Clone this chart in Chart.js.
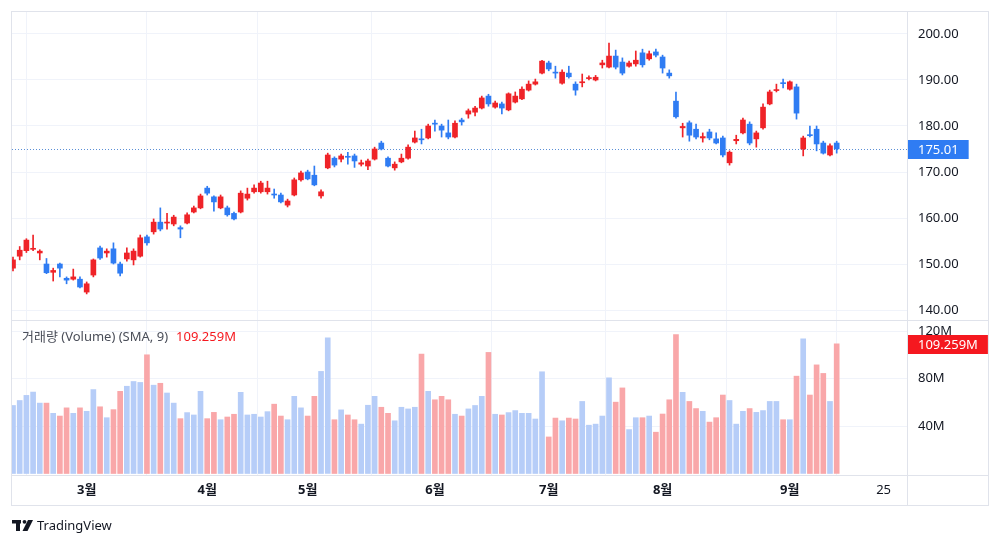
<!DOCTYPE html>
<html lang="ko">
<head>
<meta charset="utf-8">
<script src="https://cdn.jsdelivr.net/npm/chart.js@4.4.1/dist/chart.umd.min.js"></script>
<style>
  html, body { margin: 0; padding: 0; background: #fff; }
  canvas { display: block; }
</style>
</head>
<body>
<canvas id="chart" width="1000" height="545"></canvas>
<script>
// daily candles
const opens = [
  149.1, 151.7, 152.9, 153.2, 152.4, 150, 148.2, 150, 146.9, 146.7,
  146.7, 143.9, 147.6, 153.5, 152.4, 153.3, 150, 151.1, 150.9, 151.7,
  155.9, 157, 159.1, 158.9, 158.7, 157.9, 158.9, 161.3, 162.2, 166.5,
  164.6, 162.2, 162.2, 161, 161.3, 164.3, 165.7, 165.7, 165.7, 165.2,
  165, 162.8, 165, 168.3, 170, 169.3, 164.8, 170.9, 173, 172.8,
  173.4, 173.5, 171.7, 171.3, 172.8, 176.3, 173, 170.9, 172.2, 173,
  176.5, 177.2, 177.4, 180.6, 180, 178.5, 177.6, 181.3, 182.6, 183,
  183.9, 186.5, 184.1, 184.8, 183.5, 185.2, 185.9, 187.8, 189.1, 191.5,
  193.7, 191.7, 189.3, 191.5, 189.1, 189.4, 190.3, 190, 193.3, 192.8,
  195.2, 193.9, 193, 193.5, 195.9, 194.6, 196.1, 195, 191.5, 185.4,
  179.6, 180.7, 179.3, 177.4, 178.7, 177.2, 177.4, 172, 176.8, 178.5,
  180.4, 177.2, 179.6, 184.8, 187.7, 189.4, 188, 188.5, 175, 178.1,
  179.3, 176.3, 173.7, 176.3
];
const closes = [
  150.9, 153, 155.2, 153.4, 152.8, 148.1, 148.6, 149.1, 146.5, 147.2,
  145, 145.7, 150.9, 151.3, 152.8, 150.2, 148, 152.4, 152.8, 155.7,
  154.6, 159.1, 157.6, 159.1, 160.2, 157.6, 160.7, 162.2, 164.8, 165.4,
  163.5, 164.6, 160.7, 159.8, 165.4, 165.2, 166.5, 167.6, 166.5, 165,
  163.5, 163.7, 168.3, 169.8, 168.5, 167.2, 165.7, 173.7, 171.5, 173.5,
  173.2, 172.4, 172, 172.4, 175, 175, 171.3, 171.7, 173, 175.4,
  177.4, 177, 180, 180.4, 179.1, 177.6, 180.6, 180.9, 183.3, 183.9,
  186.1, 184.8, 185, 183.9, 187, 186.5, 188, 189.1, 189.6, 194.1,
  192.4, 191.5, 191.7, 190.7, 187.8, 189.6, 190.5, 190.6, 193.7, 195.2,
  192.8, 191.5, 193.7, 194.3, 193.3, 195.7, 195.4, 192.6, 190.9, 182,
  179.9, 178, 177.6, 177.7, 177.4, 176.3, 173.7, 174.3, 177.1, 181.3,
  176.3, 178.5, 184.1, 187.4, 187.9, 189.2, 189.6, 182.8, 177.4, 177.9,
  176.1, 174.1, 175.7, 175.01
];
const highs = [
  151.5, 153.8, 155.5, 156.3, 153.1, 151.2, 149.1, 150.2, 147.2, 148.9,
  147.2, 146.1, 151.1, 153.9, 153.3, 154.6, 150.4, 153.5, 153.3, 156.3,
  156.3, 159.8, 162.2, 161, 160.6, 158.3, 161.1, 162.6, 165.2, 166.9,
  164.8, 165, 162.6, 161.3, 165.9, 166.5, 167.2, 168, 168, 166.3,
  165.4, 164.1, 168.7, 170.2, 170.4, 171.3, 166.1, 174.1, 173.3, 173.9,
  174.3, 173.9, 172.6, 172.8, 175.4, 176.7, 173.3, 172.2, 173.9, 175.9,
  178.9, 179.3, 180.4, 181.3, 180.4, 181.3, 181.1, 181.7, 183.7, 184.3,
  186.5, 186.9, 185.4, 185.2, 187.2, 187.4, 188.5, 189.8, 190.2, 194.3,
  194.1, 193, 192.2, 193, 189.6, 191.3, 190.9, 191, 194.3, 198,
  196.5, 194.8, 194.1, 196.3, 196.7, 196.3, 196.7, 195.4, 192.2, 187.4,
  180.6, 181.1, 180.4, 178.5, 179.3, 178.5, 177.8, 174.6, 178, 181.7,
  180.9, 178.9, 184.8, 187.8, 189.1, 190.2, 189.8, 189.1, 177.8, 180,
  180, 176.7, 176.1, 176.7
];
const lows = [
  148.5, 150.9, 152.5, 152.9, 150.9, 147.9, 146.3, 147.2, 145.7, 146.5,
  144.8, 143.5, 147.2, 151, 151.5, 150, 147.4, 150.6, 149.8, 151.5,
  154.1, 156.5, 157.2, 157.6, 158.3, 155.7, 158.7, 161.1, 162, 165,
  161.5, 162, 160.4, 159.6, 161.1, 163.9, 165.4, 165.4, 165.2, 164.3,
  163.3, 162.4, 164.8, 168, 168.3, 167, 164.3, 170.7, 171.1, 172.2,
  171.7, 171, 171.3, 170.5, 172.6, 174.8, 171.1, 170.4, 172, 172.8,
  176.3, 176.1, 177.2, 178.9, 177.6, 177.2, 177.4, 180.2, 181.7, 182.2,
  183.7, 184.3, 183.9, 182.6, 183.3, 185, 185.7, 187.6, 188.9, 191.3,
  192, 190.4, 189.1, 190.4, 186.7, 188.5, 190, 189.8, 192.6, 192.6,
  192.4, 191.1, 192.8, 193, 192.8, 194.3, 195, 191.5, 190.4, 181.7,
  177.6, 176.7, 177.2, 176.5, 177, 176.1, 173.3, 171.5, 176.1, 178.3,
  175.9, 175.4, 179.3, 184.6, 187.4, 188.3, 187.8, 181.5, 173.5, 177.6,
  174.6, 173.9, 173.5, 174.1
];

// volume in millions, and whether each bar is drawn in the "up" colour
const volumes = [
  57.3, 61.5, 65.8, 68.6, 59.3, 59.3, 50.7, 48.4, 55.3, 50.7,
  55.3, 52.4, 70.7, 56.2, 47, 53.8, 69.2, 73.5, 77.5, 76.7,
  100, 74.4, 76, 67.8, 59.3, 46.2, 51.3, 49.3, 69.2, 46.2,
  51.5, 45.3, 47.6, 49.9, 68.4, 49.3, 49.9, 47.6, 52.1, 58.4,
  48.4, 45.3, 65, 55.3, 48.4, 65, 86, 114.3, 45.3, 53.6,
  49.3, 45.3, 41.6, 57.5, 65, 55.8, 50.7, 44.4, 55.8, 54.4,
  55.8, 100.6, 69.2, 62.1, 65, 62.1, 49.9, 48.4, 54.4, 57.3,
  65, 102, 49.9, 49.3, 51.3, 53, 50.7, 50.7, 45.9, 85.7,
  30.8, 46.7, 44.4, 46.7, 45.9, 60.7, 40.7, 41.6, 48.4, 80.6,
  60.1, 72.1, 37, 47, 47, 48.4, 34.8, 50.1, 62.1, 117.1,
  68.4, 60.7, 54.7, 52.4, 43.3, 47, 66.1, 61.5, 41.6, 52.4,
  54.7, 51.5, 53, 60.7, 60.7, 45.3, 45.3, 82, 113.4, 66.1,
  91.5, 84.3, 60.7, 109.259
];
const volumeUp = [
  0, 0, 0, 0, 0, 1, 0, 1, 1, 0,
  1, 0, 0, 1, 0, 1, 1, 0, 0, 0,
  1, 0, 1, 0, 0, 1, 0, 0, 0, 1,
  1, 0, 1, 1, 0, 0, 0, 0, 0, 1,
  1, 0, 0, 0, 1, 1, 0, 0, 1, 0,
  1, 1, 0, 0, 0, 1, 1, 0, 0, 0,
  0, 1, 0, 1, 1, 1, 0, 1, 0, 0,
  0, 1, 0, 1, 0, 0, 0, 0, 0, 0,
  1, 1, 0, 1, 1, 0, 0, 0, 0, 0,
  1, 1, 0, 0, 1, 0, 1, 1, 1, 1,
  0, 1, 1, 0, 1, 1, 1, 0, 0, 0,
  1, 0, 0, 0, 0, 1, 0, 1, 0, 1,
  1, 1, 0, 1
];

const monthTicks = [11, 29, 44, 63, 80, 97, 116, 130];
const monthLabels = ["3월", "4월", "5월", "6월", "7월", "8월", "9월", "25"];
const priceTicks = [140, 150, 160, 170, 180, 190, 200];
const volumeTicks = [40, 80, 120];
const lastPrice = 175.01;
const lastVolume = 109.259;

const UP = "#ef2328";
const DOWN = "#2f7cf3";
const UP_VOL = "#f9a7a9";
const DOWN_VOL = "#b6cdf8";
const GRID = "#f0f3fa";
const FRAME = "#e0e3eb";
const FONT = "'Noto Sans', 'Noto Sans CJK KR', sans-serif";

const candleColors = opens.map((o, i) => closes[i] >= o ? UP : DOWN);
const volColors = volumeUp.map(u => u ? UP_VOL : DOWN_VOL);

// keep the right axes from pushing the plot area around
function fixRightAxis(s) {
  s.width = 81;
  s.paddingTop = 0;
  s.paddingBottom = 0;
}

// frame, pane separators, price line, value boxes, legend, logo
const decorations = {
  id: "decorations",
  beforeDraw(chart) {
    const ctx = chart.ctx;
    ctx.save();
    ctx.fillStyle = "#fff";
    ctx.fillRect(0, 0, chart.width, chart.height);
    ctx.restore();
  },
  beforeDatasetsDraw(chart) {
    const ctx = chart.ctx;
    const a = chart.chartArea;
    const py = Math.round(chart.scales.yPrice.getPixelForValue(lastPrice)) + 0.5;
    ctx.save();
    ctx.strokeStyle = "#5b8fd6";
    ctx.lineWidth = 1;
    ctx.setLineDash([1, 2]);
    ctx.beginPath();
    ctx.moveTo(a.left, py);
    ctx.lineTo(a.right, py);
    ctx.stroke();
    ctx.restore();
  },
  afterDraw(chart) {
    const ctx = chart.ctx;
    const a = chart.chartArea;
    const yP = chart.scales.yPrice;
    const yV = chart.scales.yVol;
    ctx.save();
    ctx.strokeStyle = FRAME;
    ctx.lineWidth = 1;
    ctx.strokeRect(11.5, 11.5, 977, 494);
    ctx.beginPath();
    ctx.moveTo(a.right + 0.5, 12);
    ctx.lineTo(a.right + 0.5, 505);
    const sep = Math.round(yP.bottom) + 0.5;
    ctx.moveTo(12, sep);
    ctx.lineTo(988, sep);
    ctx.moveTo(12, Math.round(a.bottom) + 0.5);
    ctx.lineTo(988, Math.round(a.bottom) + 0.5);
    ctx.stroke();

    // value boxes on the right scale
    ctx.font = "13px " + FONT;
    ctx.textBaseline = "middle";
    const box = (text, y, color) => {
      const w = ctx.measureText(text).width + 20;
      ctx.fillStyle = color;
      ctx.fillRect(a.right + 1, Math.round(y) - 9, w, 19);
      ctx.fillStyle = "#fff";
      ctx.fillText(text, a.right + 11, Math.round(y) + 1);
    };
    box(lastPrice.toFixed(2), yP.getPixelForValue(lastPrice), DOWN);
    box(lastVolume.toFixed(3) + "M", yV.getPixelForValue(lastVolume), "#f5181f");

    // volume legend
    ctx.textAlign = "left";
    ctx.fillStyle = "#4a4e59";
    const legend = "거래량 (Volume) (SMA, 9)";
    ctx.fillText(legend, 22, yV.top + 17);
    ctx.fillStyle = "#f5181f";
    ctx.fillText(lastVolume.toFixed(3) + "M", 22 + ctx.measureText(legend).width + 8, yV.top + 17);

    // TradingView mark
    ctx.fillStyle = "#131722";
    ctx.fillRect(12, 520, 9, 3.5);
    ctx.fillRect(16, 520, 4, 11);
    ctx.beginPath();
    ctx.arc(24.5, 521.8, 1.9, 0, Math.PI * 2);
    ctx.fill();
    ctx.beginPath();
    ctx.moveTo(28, 520);
    ctx.lineTo(33, 520);
    ctx.lineTo(27.5, 531);
    ctx.lineTo(22.5, 531);
    ctx.closePath();
    ctx.fill();
    ctx.font = "13px " + FONT;
    ctx.fillText("TradingView", 37, 526);
    ctx.restore();
  }
};

new Chart(document.getElementById("chart"), {
  type: "bar",
  data: {
    datasets: [
      {
        label: "wick",
        data: highs.map((h, i) => ({ x: i, y: [lows[i], h] })),
        backgroundColor: candleColors,
        barThickness: 1,
        grouped: false,
        yAxisID: "yPrice",
        order: 2
      },
      {
        label: "body",
        data: opens.map((o, i) => ({ x: i, y: [o, closes[i]] })),
        backgroundColor: candleColors,
        barThickness: 5,
        minBarLength: 1,
        grouped: false,
        yAxisID: "yPrice",
        order: 1
      },
      {
        label: "volume",
        data: volumes.map((v, i) => ({ x: i, y: v })),
        backgroundColor: volColors,
        barThickness: 5,
        grouped: false,
        yAxisID: "yVol",
        order: 3
      }
    ]
  },
  options: {
    responsive: false,
    animation: false,
    devicePixelRatio: 1,
    layout: { padding: { left: 12, top: 12, right: 12, bottom: 40 } },
    plugins: { legend: { display: false }, tooltip: { enabled: false } },
    scales: {
      x: {
        type: "linear",
        min: -0.15,
        max: 133.5,
        offset: false,
        border: { display: false },
        grid: { color: GRID, drawTicks: false },
        afterBuildTicks: s => { s.ticks = monthTicks.map(v => ({ value: v })); },
        afterFit: s => { s.height = 30; s.paddingLeft = 0; s.paddingRight = 0; },
        ticks: {
          autoSkip: false,
          maxRotation: 0,
          padding: 7,
          color: "#131722",
          font: c => ({ family: FONT, size: 13, weight: c.tick && c.tick.value === 130 ? "normal" : "bold" }),
          callback: v => monthLabels[monthTicks.indexOf(v)]
        }
      },
      yPrice: {
        type: "linear",
        position: "right",
        stack: "panes",
        stackWeight: 308,
        min: 137.83,
        max: 204.78,
        border: { display: false },
        grid: { color: GRID, drawTicks: false },
        afterBuildTicks: s => { s.ticks = priceTicks.map(v => ({ value: v })); },
        afterFit: fixRightAxis,
        ticks: {
          padding: 11,
          color: "#131722",
          font: { family: FONT, size: 13 },
          callback: v => v.toFixed(2)
        }
      },
      yVol: {
        type: "linear",
        position: "right",
        stack: "panes",
        stackWeight: 155,
        min: -1.26,
        max: 129.3,
        border: { display: false },
        grid: { color: GRID, drawTicks: false },
        afterBuildTicks: s => { s.ticks = volumeTicks.map(v => ({ value: v })); },
        afterFit: fixRightAxis,
        ticks: {
          padding: 11,
          color: "#131722",
          font: { family: FONT, size: 13 },
          callback: v => v + "M"
        }
      }
    }
  },
  plugins: [decorations]
});
</script>
</body>
</html>
